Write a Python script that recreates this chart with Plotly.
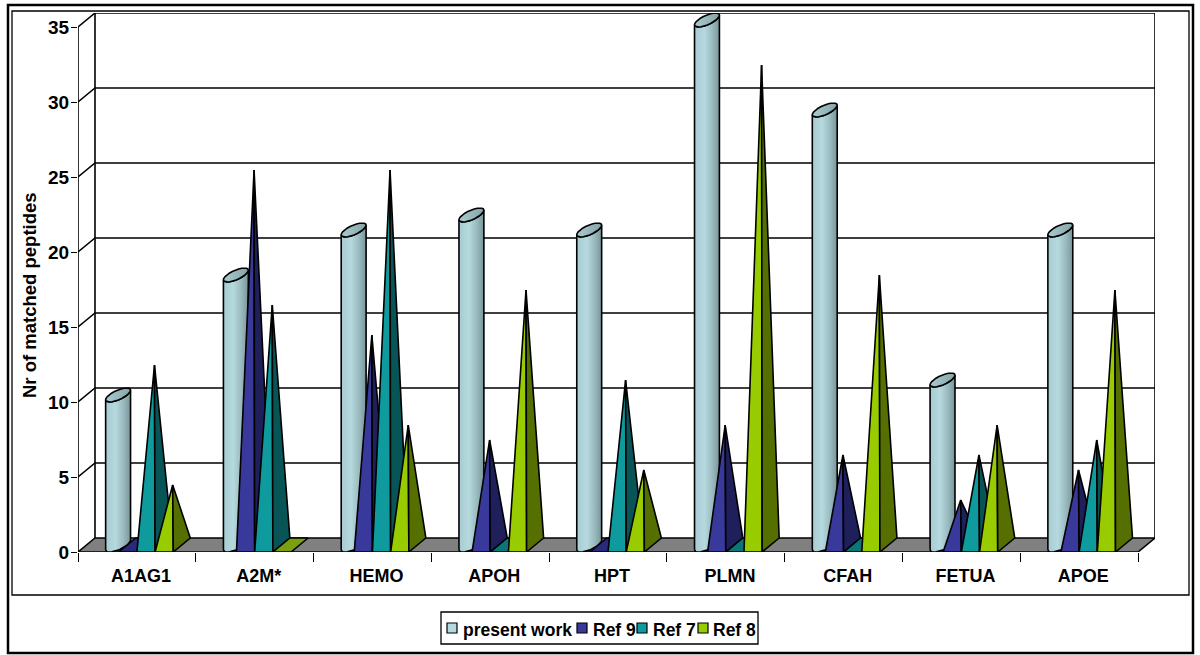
import math
import plotly.graph_objects as go

categories = ["A1AG1", "A2M*", "HEMO", "APOH", "HPT", "PLMN", "CFAH", "FETUA", "APOE"]
present_work = [10, 18, 21, 22, 21, 35, 29, 11, 21]
ref_9 = [0, 25, 14, 7, 0, 8, 6, 3, 5]
ref_7 = [12, 16, 25, 0, 11, 0, 0, 6, 7]
ref_8 = [4, 0, 8, 17, 5, 32, 18, 8, 17]
y_ticks = [0, 5, 10, 15, 20, 25, 30, 35]

W, H = 1200, 655
ML, MR, MT, MB = 78, 45, 13, 103
PW, PH = W - ML - MR, H - MT - MB
DX = 17 / 117.8      # oblique depth, in category units
DY = 14 / 15         # oblique depth, in value units
BW = 18.2 / 117.8    # bar slot width, in category units
GAP = (1 - 4 * BW) / 2
BLK = "#000000"
FONT = "Liberation Sans, Arial, sans-serif"

fig = go.Figure()


def poly(xs, ys, fill=None, name="", lw=1.6, gradient=None):
    kw = {}
    if gradient:
        kw = dict(fill="toself", fillgradient=dict(type="horizontal", colorscale=gradient))
    elif fill:
        kw = dict(fill="toself", fillcolor=fill)
    fig.add_trace(go.Scatter(x=xs, y=ys, mode="lines", name=name, showlegend=False,
                             line=dict(color=BLK, width=lw), cliponaxis=False,
                             hoverinfo="skip", **kw))


n = len(categories)
# floor
poly([0, n, n + DX, DX, 0], [0, 0, DY, DY, 0], fill="#808080", name="floor")
# back wall and grid
top = y_ticks[-1]
for v in y_ticks[1:-1]:
    poly([0, DX, n + DX], [v, v + DY, v + DY], name="grid")
poly([DX, n + DX], [top + DY, top + DY], name="grid")
poly([DX, DX], [DY, top + DY], name="wall")
poly([n + DX, n + DX], [DY, top + DY], name="wall")
poly([0, 0], [0, top], name="axis")
poly([0, DX], [top, top + DY], name="wall")

# cylinders
T0 = math.atan2(DX, BW)


def ell(cx, cy, a, b):
    steps = 24
    return ([cx + math.cos(a + (b - a) * i / steps) * BW / 2 + math.sin(a + (b - a) * i / steps) * DX / 2 for i in range(steps + 1)],
            [cy + math.sin(a + (b - a) * i / steps) * DY / 2 for i in range(steps + 1)])


for i, v in enumerate(present_work):
    cx = i + GAP + BW / 2 + DX / 2
    bx, by = ell(cx, DY / 2, T0 + math.pi, T0 + 2 * math.pi)
    tx, ty = ell(cx, v + DY / 2, T0 + 2 * math.pi, T0 + math.pi)
    poly(bx + tx + bx[:1], by + ty + by[:1], name="present work",
         gradient=[[0, "#a6cbd1"], [0.4, "#b5d9de"], [0.7, "#9bbcc1"], [1, "#78969a"]])
    ex, ey = ell(cx, v + DY / 2, 0, 2 * math.pi)
    poly(ex, ey, name="present work", gradient=[[0, "#a9cbd0"], [1, "#86a4a8"]])

# pyramids
series = [
    ("Ref 9", ref_9, 1, "#39399b", "#1f1f5c", "#2a2a7c"),
    ("Ref 7", ref_7, 2, "#0f9a9e", "#075557", "#0b7578"),
    ("Ref 8", ref_8, 3, "#99cc00", "#556f00", "#7a9f10"),
]
for name, vals, k, front, side, flat in series:
    for i, v in enumerate(vals):
        x0 = i + GAP + k * BW
        x1 = x0 + BW
        if v == 0:
            poly([x0, x1, x1 + DX, x0 + DX, x0], [0, 0, DY, DY, 0], fill=flat, name=name)
        else:
            ax = (x0 + x1 + DX) / 2
            ay = v + DY / 2
            poly([x0, x1, ax, x0], [0, 0, ay, 0], fill=front, name=name)
            poly([x1, x1 + DX, ax, x1], [0, DY, ay, 0], fill=side, name=name)


def px(x):
    return (x - ML) / PW


def py(y):
    return 1 - (y - MT) / PH


def rect(x0, y0, x1, y1, lw=1.5, fill=None):
    return dict(type="rect", xref="paper", yref="paper", x0=px(x0), x1=px(x1), y0=py(y0), y1=py(y1),
                line=dict(color=BLK, width=lw), fillcolor=fill, layer="above")


shapes = [rect(8, 5, 1193, 653, lw=2.5), rect(12, 11, 1189, 595, lw=1.3), rect(441, 612, 758, 644, lw=1.3)]
annotations = []
legend = [("present work", "#b5d9de", 447, 461), ("Ref 9", "#39399b", 577, 591),
          ("Ref 7", "#0f9a9e", 637, 651), ("Ref 8", "#99cc00", 698, 711)]
for label, col, sx, tx in legend:
    shapes.append(rect(sx, 623, sx + 10, 633, lw=1.2, fill=col))
    annotations.append(dict(text="<b>%s</b>" % label, xref="paper", yref="paper", x=px(tx), y=py(630),
                            xanchor="left", yanchor="middle", showarrow=False,
                            font=dict(family=FONT, size=17.5, color=BLK)))
annotations.append(dict(text="<b>Nr of matched peptides</b>", xref="paper", yref="paper",
                        x=px(29), y=py(295), xanchor="center", yanchor="middle", textangle=-90,
                        showarrow=False, font=dict(family=FONT, size=18.5, color=BLK)))

fig.update_layout(
    width=W, height=H, autosize=False, showlegend=False,
    margin=dict(l=ML, r=MR, t=MT, b=MB),
    paper_bgcolor="#ffffff", plot_bgcolor="#ffffff",
    font=dict(family=FONT, color=BLK),
    shapes=shapes, annotations=annotations,
    xaxis=dict(range=[0, n + DX], showgrid=False, zeroline=False, showline=False,
               tickmode="array", tickvals=[i + 0.535 for i in range(n)], ticktext=categories,
               ticks="", ticklen=0, ticklabelstandoff=11,
               tickfont=dict(family=FONT, size=18, weight="bold"),
               minor=dict(tick0=0, dtick=1, ticks="outside", ticklen=9, tickcolor=BLK, tickwidth=1.4, showgrid=False)),
    yaxis=dict(range=[0, top + DY], showgrid=False, zeroline=False, showline=False,
               tickmode="array", tickvals=y_ticks, ticks="outside", ticklen=6, tickcolor=BLK, tickwidth=1.4,
               ticklabelstandoff=-2,
               tickfont=dict(family=FONT, size=19, weight="bold")),
)
fig.write_html("out.html", config=dict(displayModeBar=False),
               post_script="document.body.style.margin='0';")
